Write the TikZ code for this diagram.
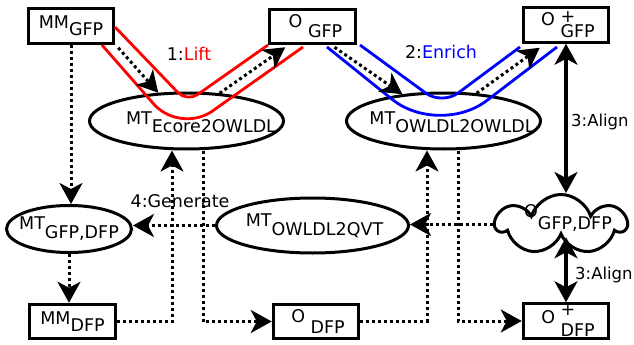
\documentclass[tikz,border=0pt]{standalone}
\usepackage{fontspec}
\setmainfont{DejaVu Sans}
\usetikzlibrary{arrows.meta,shapes.geometric,shapes.symbols,calc}
\newcommand{\lo}[2][9pt]{\raisebox{-#1}{#2}}
\newcommand{\hi}[1][3pt]{\makebox[0pt][l]{\raisebox{#1}{+}}}
\begin{document}
\begin{tikzpicture}[x=1pt,y=-1pt,
  font=\fontsize{17.5}{20}\selectfont,
  lw/.style={line width=3pt},
  box/.style={draw,lw,rectangle,inner sep=0pt,minimum width=85.5pt,minimum height=34.5pt},
  ell/.style={draw,lw,ellipse,inner sep=0pt},
  dotln/.style={line width=3pt,dash pattern=on 3pt off 3pt},
  dotarr/.style={dotln,-{Stealth[length=21pt,width=23pt,inset=6pt]}},
  dblarr/.style={line width=3.2pt,{Stealth[length=21pt,width=23pt,inset=6pt]}-{Stealth[length=21pt,width=23pt,inset=6pt]}},
  band/.style={line width=2.8pt},
  cloudsty/.style={cloud,draw,lw,cloud puffs=7,cloud puff arc=145,minimum width=129pt,minimum height=60pt,inner sep=0pt}
]
\useasboundingbox (0,0) rectangle (634,345);

% boxes
\node[box] (mmgfp) at (71,26) {MM\lo[7pt]{GFP}};
\node[box] (ogfp) at (312.5,26.5) {\hspace*{6pt}O \lo[10pt]{GFP}};
\node[box] (opgfp) at (566,25) {\hspace*{4pt}O \hi[3pt]\lo[12pt]{GFP}};
\node[box] (mmdfp) at (72.5,321.5) {MM\lo[7pt]{DFP}};
\node[box] (odfp) at (316,321.5) {\hspace*{4pt}O \lo[11pt]{DFP}};
\node[box] (opdfp) at (566,321) {\hspace*{4pt}O \hi[8pt]\lo[13pt]{DFP}};

% ellipses
\node[ell,minimum width=194pt,minimum height=56pt,
  label={[xshift=14.5pt,yshift=-1.5pt]center:MT\lo[8pt]{Ecore2OWLDL}}] (ecore) at (186.5,121) {};
\node[ell,minimum width=194pt,minimum height=56pt,
  label={[xshift=8.5pt,yshift=-1.5pt]center:MT\lo[8pt]{OWLDL2OWLDL}}] (owl) at (443.5,121) {};
\node[ell,minimum width=125pt,minimum height=47pt,
  label={[yshift=0pt]center:MT\lo[9pt]{GFP,DFP}}] (mtgd) at (69,229) {};
\node[ell,minimum width=192pt,minimum height=55pt,
  label={[xshift=2pt,yshift=-0.5pt]center:MT\lo[9pt]{OWLDL2QVT}}] (mtqvt) at (312.5,225.5) {};

% cloud
\node[cloudsty] (cloud) at (561,224.5) {};
\node[inner sep=0pt] (cloudtxt) at (568,218) {O\lo[12pt]{GFP,DFP}};

% red / blue bands
\draw[red,band,rounded corners=13pt] (115,27) -- (187,102) -- (268,45);
\draw[red,band,rounded corners=40pt] (102,45) -- (180,134) -- (303,47);
\draw[blue,band,rounded corners=20pt] (360,45) -- (442,105) -- (520,47);
\draw[blue,band,rounded corners=60pt] (327,47) -- (439,137) -- (557,47);

% lift / enrich arrows
\draw[dotarr] ([shift={(3pt,-3pt)}]mmgfp.south east) -- (ecore.135);
\draw[dotarr] (ecore.40) -- ([shift={(17pt,-2pt)}]ogfp.south west);
\draw[dotarr] ([shift={(22pt,-2pt)}]ogfp.south) -- (owl.147);
\draw[dotarr] (owl.40) -- ([shift={(18pt,-4pt)}]opgfp.south west);

% other dotted connectors
\draw[dotarr] (mmgfp.south) -- (mmgfp.south |- mtgd.north);
\draw[dotarr] (mtgd.south) -- (mtgd.south |- mmdfp.north);
\draw[dotarr] (mmdfp.east) -| ([xshift=-14.5pt]ecore.south);
\draw[dotarr] ([xshift=16.5pt]ecore.south) |- (odfp.west);
\draw[dotarr] (mtqvt.west) -- (mtqvt.west -| mtgd.east);
\draw[dotarr] (cloud.west) -- (cloud.west -| mtqvt.east);
\draw[dotarr] (odfp.east) -| ([xshift=-16.5pt]owl.south);
\draw[dotarr] ([xshift=14.5pt]owl.south) |- (opdfp.west);

% align arrows
\draw[dblarr] (opgfp.south) -- (opgfp.south |- cloud.north);
\draw[dblarr] (opdfp.north |- cloud.south) -- (opdfp.north);

% labels
\node (lift) at (189,54) {1:\textcolor{red}{Lift}};
\node (enrich) at (441,52) {2:\textcolor{blue}{Enrich}};
\node (gen) at (180,201.5) {4:Generate};
\node[anchor=west,inner sep=0pt,font=\fontsize{16.5}{20}\selectfont] (align1) at (571,122) {3:Align};
\node[anchor=west,inner sep=0pt,font=\fontsize{16.5}{20}\selectfont] (align2) at (575,274.5) {3:Align};
\end{tikzpicture}
\end{document}
